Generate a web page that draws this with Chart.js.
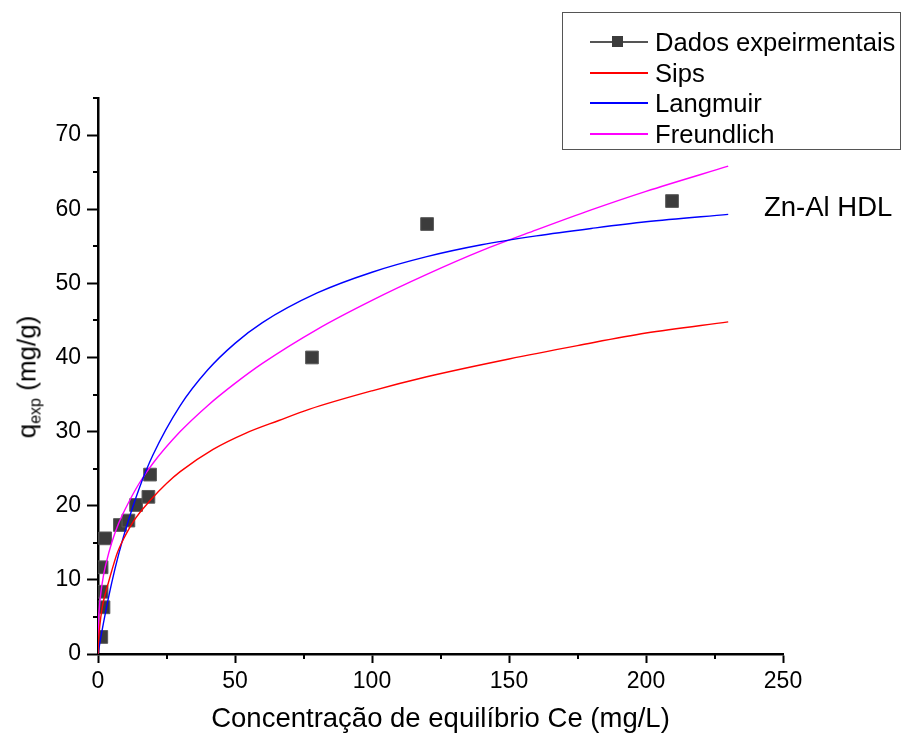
<!DOCTYPE html>
<html>
<head>
<meta charset="utf-8">
<script src="https://cdn.jsdelivr.net/npm/chart.js@4.4.1/dist/chart.umd.min.js"></script>
<style>
  body{margin:0;background:#fff;font-family:"Liberation Sans",Arial,sans-serif;}
  #wrap{position:relative;width:902px;height:740px;}
  #legend{position:absolute;left:562px;top:12px;width:337px;height:136px;border:1.5px solid #555;}
  .row{position:absolute;left:0;height:30px;width:337px;}
  .smp{position:absolute;left:27px;top:14px;width:58px;height:1.6px;}
  .mk{position:absolute;left:22px;top:-5px;width:11px;height:11px;background:#3c3c3c;}
  .lbl{position:absolute;left:92px;top:0;font-size:25.6px;line-height:30px;color:#000;}
  #ytitle{position:absolute;left:28px;top:377px;transform:translate(-50%,-50%) rotate(-90deg);font-size:26px;white-space:nowrap;}
  #ytitle sub{font-size:16px;vertical-align:-5px;}
  #note{position:absolute;left:764px;top:192px;font-size:27.5px;line-height:30px;}
</style>
</head>
<body>
<div id="wrap">
  <canvas id="chart" width="902" height="740"></canvas>
  <div id="ytitle">q<sub>exp</sub> (mg/g)</div>
  <div id="note">Zn-Al HDL</div>
  <div id="legend">
    <div class="row" style="top:14px"><div class="smp" style="background:#555"><div class="mk"></div></div><div class="lbl">Dados expeirmentais</div></div>
    <div class="row" style="top:45px"><div class="smp" style="background:#ff0000"></div><div class="lbl">Sips</div></div>
    <div class="row" style="top:75px"><div class="smp" style="background:#0000ff"></div><div class="lbl">Langmuir</div></div>
    <div class="row" style="top:106px"><div class="smp" style="background:#ff00ff"></div><div class="lbl">Freundlich</div></div>
  </div>
</div>
<script>
// experimental points
const expX = [1.2, 2.0, 1.3, 1.3, 2.6, 8.0, 11.1, 13.9, 18.4, 19.0, 78.1, 120.1, 209.5];
const expY = [2.3, 6.3, 8.4, 11.7, 15.6, 17.4, 18.0, 20.1, 21.2, 24.2, 40.0, 58.0, 61.1];

// fitted curves
const sipsX = [0, 0.1, 0.4, 1, 1.6, 2.5, 3.4, 5, 7, 10, 13.3, 19, 25, 30, 42, 54, 66, 77, 100, 120, 150, 175, 200, 230];
const sipsY = [0, 1.2, 2.8, 4.9, 6.4, 7.9, 9.1, 11.2, 13.6, 16.0, 18.1, 20.7, 23.0, 24.6, 27.6, 29.8, 31.5, 33.0, 35.5, 37.4, 39.8, 41.6, 43.3, 44.8];

const langX = [0, 0.5, 1, 2, 3, 5, 7.5, 10, 15, 20, 30, 40, 50, 60, 80, 100, 120, 140, 160, 180, 200, 230];
const langY = [0, 1.1, 2.2, 4.2, 6.1, 9.6, 13.4, 16.7, 22.3, 26.8, 33.5, 38.3, 41.9, 44.7, 48.7, 51.5, 53.6, 55.2, 56.4, 57.4, 58.3, 59.3];

const freuX = [0, 0.1, 0.5, 1, 2, 3, 5, 7.5, 10, 15, 20, 30, 40, 50, 60, 80, 100, 120, 140, 160, 180, 200, 230];
const freuY = [0, 3.3, 6.2, 8.1, 10.6, 12.3, 15.0, 17.6, 19.6, 23.0, 25.7, 30.0, 33.5, 36.5, 39.2, 43.8, 47.7, 51.2, 54.4, 57.2, 59.9, 62.4, 65.8];

const xMinor = [25, 75, 125, 175, 225];
const yMinor = [5, 15, 25, 35, 45, 55, 65, 75];

function pts(xs, ys){
    return xs.map((x, i) => ({x: x, y: ys[i]}));
}

function curve(label, xs, ys, color){
    return {
        label: label,
        data: pts(xs, ys),
        showLine: true,
        borderColor: color,
        borderWidth: 1.4,
        pointRadius: 0,
        cubicInterpolationMode: 'monotone',
        fill: false
    };
}

//short ticks between the labelled ones
const minorTicks = {
    id: 'minorTicks',
    afterDraw(chart){
        const ctx = chart.ctx;
        const xs = chart.scales.x, ys = chart.scales.y;
        ctx.save();
        ctx.strokeStyle = '#000';
        ctx.lineWidth = 2;
        ctx.beginPath();
        xMinor.forEach(v => {
            const px = Math.round(xs.getPixelForValue(v));
            ctx.moveTo(px, xs.top);
            ctx.lineTo(px, xs.top + 5);
        });
        yMinor.forEach(v => {
            const py = Math.round(ys.getPixelForValue(v));
            ctx.moveTo(ys.right, py);
            ctx.lineTo(ys.right - 5, py);
        });
        ctx.stroke();
        ctx.restore();
    }
};

const tickFont = {family: '"Liberation Sans", Arial, sans-serif', size: 23};

new Chart(document.getElementById('chart'), {
    type: 'scatter',
    data: {
        datasets: [
            curve('Sips', sipsX, sipsY, '#ff0000'),
            curve('Langmuir', langX, langY, '#0000ff'),
            curve('Freundlich', freuX, freuY, '#ff00ff'),
            {
                label: 'Dados expeirmentais',
                data: pts(expX, expY),
                pointStyle: 'rect',
                pointRadius: 9,
                backgroundColor: '#3c3c3c',
                borderColor: '#5a5a5a',
                borderWidth: 1,
                showLine: false
            }
        ]
    },
    options: {
        responsive: false,
        animation: false,
        layout: {padding: {left: 0, right: 119, top: 98, bottom: 0}},
        plugins: {legend: {display: false}, tooltip: {enabled: false}},
        scales: {
            x: {
                type: 'linear',
                min: 0, max: 250,
                afterFit(s){ s.height = 86; },
                border: {color: '#000', width: 2.5},
                grid: {
                    drawOnChartArea: false,
                    tickLength: 9,
                    tickWidth: 2,
                    tickColor: c => (c.tick && c.tick.value % 50 === 0) ? '#000' : 'rgba(0,0,0,0)'
                },
                ticks: {
                    stepSize: 25,
                    autoSkip: false,
                    maxRotation: 0,
                    padding: 5,
                    color: '#000',
                    font: tickFont,
                    callback: v => v % 50 === 0 ? v : ''
                },
                title: {
                    display: true,
                    text: 'Concentração de equilíbrio Ce (mg/L)',
                    color: '#000',
                    font: {family: '"Liberation Sans", Arial, sans-serif', size: 27.5},
                    padding: {top: 0, bottom: 4}
                }
            },
            y: {
                type: 'linear',
                min: 0, max: 75,
                afterFit(s){ s.width = 98; },
                border: {color: '#000', width: 2.5},
                grid: {
                    drawOnChartArea: false,
                    tickLength: 11,
                    tickWidth: 2,
                    tickColor: c => (c.tick && c.tick.value % 10 === 0) ? '#000' : 'rgba(0,0,0,0)'
                },
                ticks: {
                    stepSize: 5,
                    autoSkip: false,
                    padding: 6,
                    color: '#000',
                    font: tickFont,
                    callback: v => v % 10 === 0 ? v : ''
                }
            }
        }
    },
    plugins: [minorTicks]
});
</script>
</body>
</html>
